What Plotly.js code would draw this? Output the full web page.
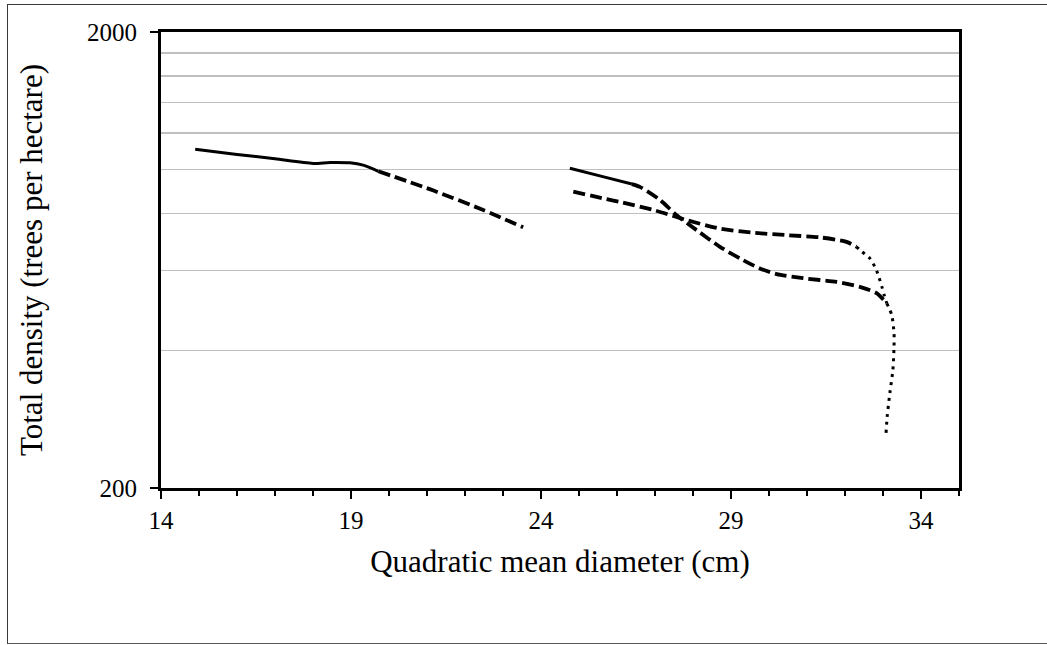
<!DOCTYPE html>
<html>
<head>
<meta charset="utf-8">
<script src="https://cdn.plot.ly/plotly-3.0.1.min.js"></script>
<style>
  html, body { margin: 0; padding: 0; background: #fff; overflow: hidden; width: 1047px; height: 645px; }
  #wrap { position: relative; width: 1047px; height: 645px; overflow: hidden; }
  #chart { position: absolute; left: 0; top: 0; width: 1047px; height: 645px; }
  /* frame around the figure: left, top and bottom edges run off the right side */
  #frame {
    position: absolute; left: 7px; top: 4px; width: 1100px; height: 638px;
    border-left: 1.5px solid #3a3a3a; border-top: 1.5px solid #3a3a3a; border-bottom: 1.5px solid #5a5a5a;
    pointer-events: none;
  }
</style>
</head>
<body>
<div id="wrap">
  <div id="chart"></div>
  <div id="frame"></div>
</div>
<script>
// Stand 1: measured trajectory (solid) and its projection (dashed)
const stand1MeasuredDq = [14.9, 16.0, 17.0, 18.0, 18.45, 18.97, 19.32, 19.72];
const stand1MeasuredN  = [1106, 1078, 1054, 1030, 1035, 1033, 1021, 990];
const stand1ProjDq = [19.72, 21.17, 22.48, 23.53];
const stand1ProjN  = [990, 898, 814, 746];

// Stand 2: measured (solid), projection (dashed), late projection (dotted)
const stand2MeasuredDq = [24.76, 25.6, 26.39];
const stand2MeasuredN  = [1005, 965, 928];
const stand2ProjDq = [26.39, 26.6, 27.13, 27.57, 28.1, 28.71, 29.32, 29.76, 30.2, 30.9, 31.78, 32.39, 32.83, 33.1];
const stand2ProjN  = [928, 915, 857, 793, 735, 676, 632, 606, 589, 577, 566, 552, 535, 508];
const stand2LateDq = [33.1, 33.23, 33.29, 33.29, 33.26, 33.18, 33.11, 33.08];
const stand2LateN  = [508, 479, 437, 408, 363, 323, 287, 264];

// Stand 3: projection (dashed) and late projection (dotted)
const stand3ProjDq = [24.85, 25.73, 26.08, 26.96, 27.83, 28.71, 29.59, 30.47, 31.34, 32.04, 32.3];
const stand3ProjN  = [893, 860, 848, 814, 774, 741, 726, 717, 709, 693, 676];
const stand3LateDq = [32.3, 32.44, 32.66, 32.83, 32.9, 32.97, 33.03, 33.1];
const stand3LateN  = [676, 660, 637, 600, 577, 553, 530, 508];

// Axis ticks
const xMajorTicks = [14, 19, 24, 29, 34];
const yTickVals = [200, 2000];
const yTickText = ['200', '2000'];
const yGridVals = [400, 600, 800, 1000, 1200, 1400, 1600, 1800];

const SERIF = 'Liberation Serif, Times New Roman, serif';
const DASH = '12px,5px';
const DOT = '3px,5px';

function line(x, y, name, dash, width) {
  return {
    x: x, y: y, name: name, type: 'scatter', mode: 'lines',
    line: { color: '#000', width: width, dash: dash, shape: 'spline', smoothing: 0.7 },
    hoverinfo: 'x+y', showlegend: false
  };
}

const traces = [
  line(stand1MeasuredDq, stand1MeasuredN, 'Stand 1 measured', 'solid', 3),
  line(stand1ProjDq, stand1ProjN, 'Stand 1 projected', DASH, 3.8),
  line(stand2MeasuredDq, stand2MeasuredN, 'Stand 2 measured', 'solid', 3),
  line(stand2ProjDq, stand2ProjN, 'Stand 2 projected', DASH, 3.8),
  line(stand2LateDq, stand2LateN, 'Stand 2 late', DOT, 3),
  line(stand3ProjDq, stand3ProjN, 'Stand 3 projected', DASH, 3.8),
  line(stand3LateDq, stand3LateN, 'Stand 3 late', DOT, 3)
];

const layout = {
  width: 1047,
  height: 645,
  margin: { l: 161, r: 88, t: 32, b: 157 },
  paper_bgcolor: '#fff',
  plot_bgcolor: '#fff',
  font: { family: SERIF, color: '#000', size: 25 },
  showlegend: false,
  xaxis: {
    range: [14, 35],
    tickmode: 'array',
    tickvals: xMajorTicks,
    ticks: 'outside', ticklen: 8, tickwidth: 2, tickcolor: '#000',
    minor: { tickmode: 'linear', tick0: 14, dtick: 1, ticks: 'outside', ticklen: 5, tickwidth: 2, tickcolor: '#000', showgrid: false },
    showline: true, linecolor: '#000', linewidth: 3, mirror: true,
    showgrid: false, zeroline: false,
    tickfont: { family: SERIF, size: 25, color: '#000' },
    title: { text: 'Quadratic mean diameter (cm)', font: { family: SERIF, size: 31, color: '#000' }, standoff: 18 },
    automargin: false
  },
  yaxis: {
    type: 'log',
    range: [Math.log10(200), Math.log10(2000)],
    tickmode: 'array',
    tickvals: yTickVals,
    ticktext: yTickText,
    ticks: 'outside', ticklen: 8, tickwidth: 2, tickcolor: '#000',
    ticklabelstandoff: 8,
    minor: { tickmode: 'array', tickvals: yGridVals, ticks: '', showgrid: true, gridcolor: '#bfbfbf', gridwidth: 1.5 },
    showline: true, linecolor: '#000', linewidth: 3, mirror: true,
    showgrid: false, zeroline: false,
    tickfont: { family: SERIF, size: 25, color: '#000' },
    title: { text: 'Total density (trees per hectare)', font: { family: SERIF, size: 31, color: '#000' }, standoff: 36 },
    automargin: false
  }
};

Plotly.newPlot('chart', traces, layout, { staticPlot: true, displayModeBar: false });
</script>
</body>
</html>
